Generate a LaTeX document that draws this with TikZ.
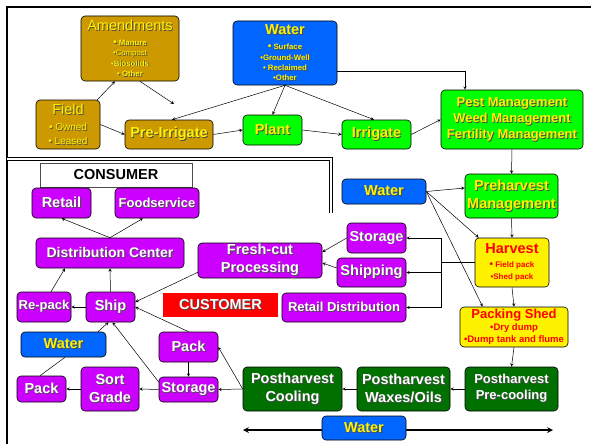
\documentclass[tikz,border=0pt]{standalone}
\usepackage{fontspec}
\setmainfont{Liberation Sans}
\usetikzlibrary{calc,positioning,arrows}
\definecolor{goldbox}{RGB}{204,153,0}
\definecolor{bluebox}{RGB}{0,102,255}
\definecolor{greenbox}{RGB}{0,255,0}
\definecolor{darkgreenbox}{RGB}{0,112,0}
\definecolor{purplebox}{RGB}{204,0,255}
\newcommand{\sh}[1]{\leavevmode\rlap{\kern0.9pt\raise-0.9pt\hbox{\color{black!70}#1}}#1}
\newcommand{\bigbul}{{\fontsize{10}{10}\selectfont\textbullet}\ }
\newcommand{\itemsize}{\bfseries\fontsize{7.8}{10.3}\selectfont}
\newcommand{\titlesize}{\fontsize{14.5}{17}\selectfont}

\begin{document}
\begin{tikzpicture}[x=1pt, y=-1pt, >=stealth, line width=0.6pt,
    box/.style={draw=black, rounded corners=4pt, align=center, inner sep=0pt,
      font=\bfseries\fontsize{14.5}{17}\selectfont},
    goldnode/.style={box, fill=goldbox, text=yellow},
    bluenode/.style={box, fill=bluebox, text=yellow},
    greennode/.style={box, fill=greenbox, text=yellow},
    purplenode/.style={box, fill=purplebox, text=white},
    darknode/.style={box, fill=darkgreenbox, text=white},
    yellownode/.style={box, fill=yellow, text=red},
    link/.style={->, line width=0.5pt}]
  \useasboundingbox (0,0) rectangle (591,444);

  % frame
  \draw[line width=2pt] (7,444) -- (7,7) -- (591,7);
  \draw[double, double distance=2.6pt, line width=0.7pt] (7,159) -- (331,159) -- (331,213);

  % water line at the bottom
  \coordinate (wleft) at (243,430);
  \coordinate (wright) at (553,430);
  \draw[<->, line width=1.6pt] (wleft) -- (wright);

  % field work
  \node[goldnode, minimum width=98, minimum height=65, font=\itemsize] (amend) at (130,48.5)
    {\sh{\titlesize\mdseries Amendments}\\[5pt] \sh{\bigbul Manure}\\ \sh{\mdseries\textbullet Compost}\\
     \sh{\textbullet Biosolids}\\ \sh{\textbullet\ Other}};
  \node[goldnode, minimum width=64, minimum height=49, font=\mdseries\fontsize{10}{13.5}\selectfont] (field) at (68,124.5)
    {\sh{\titlesize Field}\\[3pt] \sh{\bigbul Owned}\\ \sh{\bigbul Leased}};
  \node[goldnode, minimum width=88, minimum height=29] (preirr) at (169,134.5) {\sh{Pre-Irrigate}};
  \node[bluenode, minimum width=104, minimum height=64, font=\itemsize] (watertop) at (285,53)
    {\sh{\titlesize Water}\\[5pt] \sh{\bigbul Surface}\\ \sh{\textbullet Ground-Well}\\
     \sh{\textbullet\ Reclaimed}\\ \sh{\textbullet Other}};
  \node[greennode, minimum width=59, minimum height=30] (plant) at (272.5,130) {\sh{Plant}};
  \node[greennode, minimum width=69, minimum height=29] (irrigate) at (376.5,134.5) {\sh{Irrigate}};
  \node[greennode, minimum width=142, minimum height=59, font=\bfseries\fontsize{13}{16}\selectfont] (pest) at (512,119.5)
    {\sh{Pest Management}\\ \sh{Weed Management}\\ \sh{Fertility Management}};

  % harvest
  \node[greennode, minimum width=93, minimum height=44, font=\bfseries\fontsize{14.5}{18}\selectfont] (preharv) at (511.5,196)
    {\sh{Preharvest}\\ \sh{Management}};
  \node[bluenode, minimum width=84, minimum height=25] (watermid) at (384,191.5) {\sh{Water}};
  \node[yellownode, minimum width=74, minimum height=49, font=\bfseries\fontsize{8}{12}\selectfont] (harvest) at (512,262.5)
    {{\titlesize Harvest}\\[2pt] \bigbul Field pack\\ \textbullet Shed pack};
  \node[yellownode, minimum width=108, minimum height=40, font=\bfseries\fontsize{9.5}{12}\selectfont] (packshed) at (514,327)
    {{\fontsize{13}{15}\selectfont Packing Shed}\\ \textbullet Dry dump\\ \textbullet Dump tank and flume};

  % customer side
  \node[purplenode, minimum width=59, minimum height=30] (storageA) at (376.5,238) {\sh{Storage}};
  \node[purplenode, minimum width=69, minimum height=29] (shipping) at (371.5,272.5) {\sh{Shipping}};
  \node[purplenode, minimum width=124, minimum height=29, font=\bfseries\fontsize{13}{16}\selectfont] (retaildist) at (344,307.5)
    {\sh{Retail Distribution}};
  \node[purplenode, minimum width=124, minimum height=35, font=\bfseries\fontsize{14.5}{18}\selectfont] (freshcut) at (260,260.5)
    {\sh{Fresh-cut}\\ \sh{Processing}};
  \node[fill=red, text=white, font=\bfseries\fontsize{14.5}{17}\selectfont, minimum width=115, minimum height=24,
    inner sep=0pt] (customer) at (220.5,305) {\sh{CUSTOMER}};

  % consumer side
  \node[draw=black!70, fill=white, font=\bfseries\fontsize{14.5}{17}\selectfont, minimum width=152, minimum height=24,
    inner sep=0pt] (consumer) at (116,175) {CONSUMER};
  \node[purplenode, minimum width=59, minimum height=30] (retail) at (61.5,203) {\sh{Retail}};
  \node[purplenode, minimum width=84, minimum height=30, font=\bfseries\fontsize{13}{16}\selectfont] (foodservice) at (157,203)
    {\sh{Foodservice}};
  \node[purplenode, minimum width=148, minimum height=30, font=\bfseries\fontsize{14}{17}\selectfont] (distcenter) at (110,253)
    {\sh{Distribution Center}};
  \node[purplenode, minimum width=54, minimum height=30, font=\bfseries\fontsize{13}{16}\selectfont] (repack) at (44,307)
    {\sh{Re-pack}};
  \node[purplenode, minimum width=49, minimum height=30] (ship) at (110.5,307) {\sh{Ship}};
  \node[bluenode, minimum width=85, minimum height=25] (waterleft) at (63.5,344.5) {\sh{Water}};
  \node[purplenode, minimum width=49, minimum height=26] (packleft) at (41.5,389) {\sh{Pack}};
  \node[purplenode, minimum width=58, minimum height=44, font=\bfseries\fontsize{14.5}{18}\selectfont] (sortgrade) at (110,389)
    {\sh{Sort}\\ \sh{Grade}};
  \node[purplenode, minimum width=59, minimum height=25] (storageB) at (188.5,389.5) {\sh{Storage}};
  \node[purplenode, minimum width=59, minimum height=30] (packmid) at (188.5,347) {\sh{Pack}};

  % postharvest
  \node[darknode, minimum width=99, minimum height=44, font=\bfseries\fontsize{14.5}{18}\selectfont] (cooling) at (292.5,389)
    {\sh{Postharvest}\\ \sh{Cooling}};
  \node[darknode, minimum width=93, minimum height=44, font=\bfseries\fontsize{14.5}{18}\selectfont] (waxes) at (403.5,389)
    {\sh{Postharvest}\\ \sh{Waxes/Oils}};
  \node[darknode, minimum width=93, minimum height=44, font=\bfseries\fontsize{13}{16}\selectfont] (precool) at (511.5,389)
    {\sh{Postharvest}\\ \sh{Pre-cooling}};
  \node[bluenode, minimum width=84, minimum height=24] (waterbot) at (364,428) {\sh{Water}};

  % connectors, top
  \draw[link] ([xshift=-3]field.north east) -- ([xshift=-15]amend.south);
  \draw[link] (field.east) -- (preirr.west);
  \coordinate (amendtip) at (174,104);
  \draw[link] ([xshift=10]amend.south) -- (amendtip);
  \draw[link] (watertop.south) -- ([xshift=3]preirr.north);
  \draw[link] (watertop.south) -- (plant.north);
  \draw[link] (watertop.south) -- ([xshift=-2.5]irrigate.north);
  \draw[link] ([yshift=-18]watertop.east) -| ([xshift=-47]pest.north);
  \draw[link] (preirr.east) -- (plant.west);
  \draw[link] (plant.east) -- (irrigate.west);
  \draw[link] (irrigate.east) -- (pest.west);
  \draw[link] (pest.south) -- (preharv.north);

  % connectors, harvest
  \draw[link] (watermid.east) -- ([yshift=8]preharv.west);
  \draw[link] (watermid.east) -- ([xshift=4]harvest.north west);
  \draw[link] (watermid.east) -- ([xshift=23]packshed.north west);
  \draw[link] (preharv.south) -- (harvest.north);
  \draw[link] (harvest.south) -- (packshed.north);
  \coordinate (split) at (441,262.5);
  \draw[line width=1.2pt] (harvest.west) -- (split);
  \draw[link] (split) |- (storageA.east);
  \draw[link] (split) |- (shipping.east);
  \draw[link] (split) |- (retaildist.east);

  % connectors, customer and consumer
  \draw[link] (storageA.west) -- ([yshift=8.5]freshcut.east);
  \draw[link] ([yshift=4.5]shipping.west) -- ([yshift=-2.5]freshcut.east);
  \draw[link] ([yshift=6]freshcut.south west) -- ([yshift=5]ship.east);
  \draw[link] (packmid.north) -- (ship.east);
  \draw[link] ([yshift=7.5]storageB.west) -- ([xshift=2]ship.south);
  \draw[link] ([xshift=34.5]waterleft.north) -- ([xshift=-2]ship.south);
  \draw[link] (ship.north) -- (distcenter.south);
  \draw[link] ([xshift=7]repack.north) -- ([xshift=-45]distcenter.south);
  \draw[link] (ship.west) -- (repack.east);
  \draw[link] (distcenter.north) -- (retail.south);
  \draw[link] (distcenter.north) -- ([xshift=-14]foodservice.south);
  \draw[line width=0.5pt] ([xshift=1.5]waterleft.south) -- ([xshift=-1.5]packleft.north);
  \draw[link] (sortgrade.west) -- (packleft.east);
  \draw[link] (storageB.west) -- (sortgrade.east);
  \draw[link] (packmid.south) -- (storageB.north);

  % connectors, postharvest
  \draw[link] (cooling.west) -- (storageB.east);
  \draw[link] (cooling.west) -- (packmid.east);
  \draw[link] (waxes.west) -- (cooling.east);
  \draw[link] (precool.west) -- (waxes.east);
  \draw[link] (packshed.south) -- (precool.north);
\end{tikzpicture}
\end{document}
